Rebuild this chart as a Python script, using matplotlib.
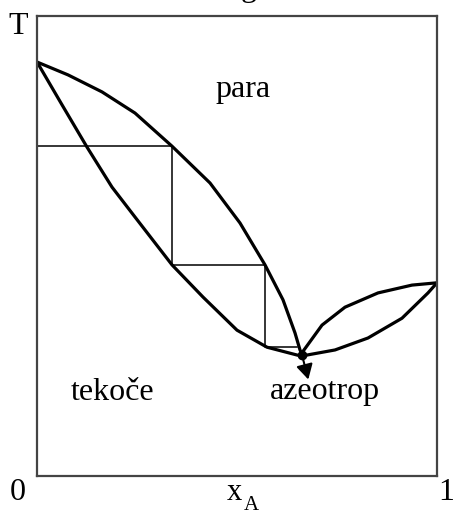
import matplotlib
matplotlib.use("Agg")
import matplotlib.pyplot as plt

# ---------------- data (x_A, T normalised 0..1) ----------------
vapor_left_x = [0.0, 0.0775, 0.1625, 0.245, 0.3375, 0.4325, 0.5075, 0.57, 0.615, 0.645, 0.6575, 0.6625]
vapor_left_y = [0.900, 0.872, 0.835, 0.789, 0.717, 0.637, 0.550, 0.459, 0.383, 0.311, 0.274, 0.265]

liquid_left_x = [0.0, 0.0625, 0.125, 0.1875, 0.245, 0.3375, 0.415, 0.50, 0.575, 0.65, 0.6625]
liquid_left_y = [0.900, 0.807, 0.715, 0.628, 0.563, 0.459, 0.389, 0.317, 0.280, 0.263, 0.261]

vapor_right_x = [0.6625, 0.7125, 0.77, 0.8525, 0.9375, 1.0]
vapor_right_y = [0.268, 0.328, 0.367, 0.398, 0.415, 0.420]

liquid_right_x = [0.6625, 0.745, 0.8275, 0.9125, 0.9775, 1.0]
liquid_right_y = [0.261, 0.274, 0.300, 0.343, 0.398, 0.420]

steps_x = [0.0, 0.3375, 0.3375, 0.57, 0.57, 0.65]
steps_y = [0.717, 0.717, 0.459, 0.459, 0.280, 0.280]

azeo_x, azeo_y = 0.6625, 0.263
arrow_tip = (0.68, 0.204)

W, H = 453, 516
font = "Liberation Serif"

fig = plt.figure(figsize=(W / 100, H / 100), dpi=100)
fig.patch.set_facecolor("white")
ax = fig.add_axes([37 / W, 40 / H, 400 / W, 460 / H])
ax.set_xlim(0, 1)
ax.set_ylim(0, 1)
ax.set_xticks([])
ax.set_yticks([])
for s in ax.spines.values():
    s.set_linewidth(1.6)
    s.set_color("#444444")

# curves
kw = dict(color="black", linewidth=2.3, solid_capstyle="round", solid_joinstyle="round")
ax.plot(vapor_left_x, vapor_left_y, **kw)
ax.plot(liquid_left_x, liquid_left_y, **kw)
ax.plot(vapor_right_x, vapor_right_y, **kw)
ax.plot(liquid_right_x, liquid_right_y, **kw)

# stairs
ax.plot(steps_x, steps_y, color="black", linewidth=1.1)

# azeotrope arrow
ax.plot([azeo_x], [azeo_y], "o", color="black", markersize=6)
ax.annotate("", xy=arrow_tip, xytext=(azeo_x, azeo_y),
            arrowprops=dict(arrowstyle="-|>,head_length=0.9,head_width=0.5",
                            color="black", lw=1.5))

# labels
def ftext(px, py, s, size=23, **k):
    fig.text(px / W, 1 - py / H, s, fontsize=size, family=font,
             ha="center", va="center", color="black", **k)

ftext(18, 26, "T")
ftext(243, 90, "para")
ftext(113, 392, "tekoče")
ftext(325, 392, "azeotrop")
ftext(18, 493, "0")
ftext(446, 493, "1")
ftext(234, 493, "x", size=22)
ftext(251, 506, "A", size=15)
fig.text(249 / W, 1 + 4 / H, "g", fontsize=23, family=font,
         ha="center", va="baseline", color="black")

fig.savefig("out.png", dpi=100)
